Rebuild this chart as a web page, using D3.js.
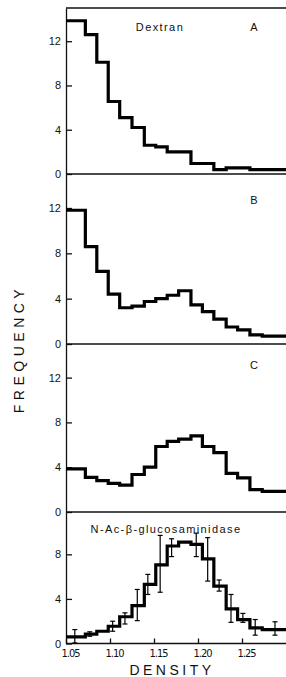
<!DOCTYPE html>
<html>
<head>
<meta charset="utf-8">
<script src="https://cdn.jsdelivr.net/npm/d3@7"></script>
<style>
body { margin: 0; background: #fff; }
svg { display: block; }
text { font-family: "Liberation Sans", Arial, sans-serif; fill: #111; }
.axis path, .axis line { stroke: #111; stroke-width: 1.3; }
</style>
</head>
<body>
<svg id="chart" width="286" height="677"></svg>
<script>
// fraction edges along the gradient (density), same for every panel
var binEdges = [1.05, 1.072, 1.085, 1.098, 1.111, 1.125, 1.139, 1.152, 1.165,
                1.178, 1.192, 1.205, 1.218, 1.232, 1.245, 1.259, 1.273, 1.286, 1.30];

// frequency per fraction
var dextranA = [13.85, 12.6, 10.1, 6.55, 5.1, 4.2, 2.6, 2.45, 2.0, 2.0, 0.95, 0.95, 0.4, 0.55, 0.55, 0.4, 0.4, 0.4];
var seriesB  = [11.8, 8.6, 6.4, 4.4, 3.2, 3.35, 3.75, 4.0, 4.3, 4.7, 3.45, 2.85, 2.2, 1.5, 1.25, 0.8, 0.7, 0.7];
var seriesC  = [3.85, 3.1, 2.8, 2.55, 2.4, 3.35, 4.0, 5.85, 6.3, 6.5, 6.8, 5.85, 5.3, 3.45, 3.05, 2.0, 1.85, 1.85];
var glucos   = [0.6, 0.85, 1.1, 1.55, 2.4, 3.4, 5.3, 7.05, 8.75, 9.1, 8.9, 7.6, 5.15, 3.1, 2.15, 1.4, 1.25, 1.25];

// error bars on the enzyme panel
var errDensity = [1.060, 1.077, 1.103, 1.117, 1.131, 1.143, 1.157, 1.170, 1.198, 1.211, 1.224, 1.2375, 1.251, 1.265, 1.2875];
var errMean    = [0.65, 0.85, 1.55, 2.25, 3.45, 5.3, 7.15, 8.6, 8.85, 7.55, 5.2, 3.15, 2.3, 1.45, 1.35];
var errHalf    = [0.6, 0.2, 0.45, 0.5, 1.4, 0.9, 2.55, 0.8, 1.05, 1.95, 0.5, 1.25, 0.4, 0.7, 0.6];

var yTicks = [0, 4, 8, 12];
var xTicks = [1.05, 1.10, 1.15, 1.20, 1.25];

var svg = d3.select("svg#chart"),
    left = 66, right = 286;

var x = d3.scaleLinear().domain([1.05, 1.30]).range([left, right]);

var panels = [
  {values: dextranA, top: 8,   bottom: 174,   max: 15,   letter: "A", title: "Dextran", titleX: 160, titleY: 31, letterY: 31},
  {values: seriesB,  top: 174, bottom: 344,   max: 15,   letter: "B", letterY: 204},
  {values: seriesC,  top: 344, bottom: 512,   max: 15,   letter: "C", letterY: 369},
  {values: glucos,   top: 512, bottom: 643.5, max: 11.8, title: "N-Ac-\u03b2-glucosaminidase", titleX: 166, titleY: 533, errors: true}
];

// top border of the first panel
svg.append("line")
    .attr("x1", left).attr("x2", right)
    .attr("y1", 8).attr("y2", 8)
    .attr("stroke", "#111").attr("stroke-width", 1.3);

panels.forEach(function(p, idx) {
  var y = d3.scaleLinear().domain([0, p.max]).range([p.bottom, p.top]);

  // left axis, ticks pointing into the plot
  var ya = svg.append("g")
      .attr("class", "axis")
      .attr("transform", "translate(" + left + ",0)")
      .call(d3.axisLeft(y)
        .tickValues(yTicks.filter(function(t) { return t <= p.max; }))
        .tickSizeInner(-6).tickSizeOuter(0).tickPadding(5)
        .tickFormat(d3.format("d")));
  ya.selectAll("text").attr("font-size", 11).style("font-family", "Liberation Sans, Arial, sans-serif");

  // base line
  svg.append("line")
      .attr("x1", left).attr("x2", right)
      .attr("y1", y(0)).attr("y2", y(0))
      .attr("stroke", "#111").attr("stroke-width", 1.3);

  // histogram outline
  var pts = binEdges.map(function(e, i) {
    return [e, p.values[Math.min(i, p.values.length - 1)]];
  });
  var line = d3.line()
      .x(function(d) { return x(d[0]); })
      .y(function(d) { return y(d[1]); })
      .curve(d3.curveStepAfter);
  svg.append("path")
      .datum(pts)
      .attr("d", line)
      .attr("fill", "none")
      .attr("stroke", "#000")
      .attr("stroke-width", 3.2);

  if (p.errors) {
    var eb = svg.append("g").attr("stroke", "#000").attr("stroke-width", 1.2);
    errDensity.forEach(function(d, i) {
      var cx = x(d), lo = y(errMean[i] - errHalf[i]), hi = y(errMean[i] + errHalf[i]);
      eb.append("line").attr("x1", cx).attr("x2", cx).attr("y1", lo).attr("y2", hi);
      eb.append("line").attr("x1", cx - 2.5).attr("x2", cx + 2.5).attr("y1", lo).attr("y2", lo);
      eb.append("line").attr("x1", cx - 2.5).attr("x2", cx + 2.5).attr("y1", hi).attr("y2", hi);
    });

    // density axis under the last panel
    var xa = svg.append("g")
        .attr("class", "axis")
        .attr("transform", "translate(0," + y(0) + ")")
        .call(d3.axisBottom(x)
          .tickValues(xTicks)
          .tickSizeInner(-5).tickSizeOuter(0).tickPadding(6)
          .tickFormat(d3.format(".2f")));
    xa.select(".domain").remove();
    xa.selectAll("text")
        .attr("dx", 4)
        .attr("font-size", 11)
        .attr("letter-spacing", "-1px")
        .style("font-family", "'Liberation Sans Narrow', 'DejaVu Sans Condensed', sans-serif");
  }

  if (p.title) {
    svg.append("text")
        .attr("x", p.titleX).attr("y", p.titleY)
        .attr("text-anchor", "middle")
        .attr("font-size", 11)
        .attr("letter-spacing", "1.4px")
        .text(p.title);
  }
  if (p.letter) {
    svg.append("text")
        .attr("x", 254).attr("y", p.letterY)
        .attr("text-anchor", "middle")
        .attr("font-size", 11)
        .text(p.letter);
  }
});

svg.append("text")
    .attr("x", 172).attr("y", 675)
    .attr("text-anchor", "middle")
    .attr("font-size", 14)
    .attr("letter-spacing", "3.5px")
    .text("DENSITY");

svg.append("text")
    .attr("transform", "translate(24,349) rotate(-90)")
    .attr("text-anchor", "middle")
    .attr("font-size", 14)
    .attr("letter-spacing", "4.5px")
    .text("FREQUENCY");
</script>
</body>
</html>
